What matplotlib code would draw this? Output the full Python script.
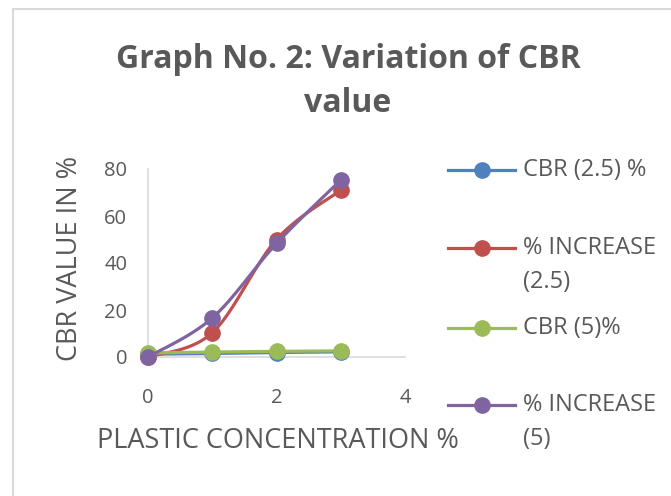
import matplotlib
matplotlib.use("Agg")
import matplotlib.pyplot as plt
import numpy as np
from matplotlib.lines import Line2D
from matplotlib.patches import Rectangle

# data
conc = [0, 1, 2, 3]
cbr_25 = [1.2, 1.5, 1.9, 2.2]
inc_25 = [0, 10.3, 50, 71]
cbr_5 = [1.7, 2.1, 2.4, 2.6]
inc_5 = [0, 16.6, 48.3, 75.3]

labels = ["CBR (2.5) %", "% INCREASE\n(2.5)", "CBR (5)%", "% INCREASE\n(5)"]
colors = ["#4F81BD", "#C0504D", "#9BBB59", "#8064A2"]

TXT = "#595959"
FONT = "Open Sans"


def smooth(x, y, n=30):
    # Excel-style smoothed line (cubic bezier through the points)
    x = np.asarray(x, float)
    y = np.asarray(y, float)
    px = np.concatenate([[x[0]], x, [x[-1]]])
    py = np.concatenate([[y[0]], y, [y[-1]]])
    t = np.linspace(0, 1, n)
    xs, ys = [], []
    for i in range(1, len(px) - 2):
        p0 = np.array([px[i], py[i]])
        p3 = np.array([px[i + 1], py[i + 1]])
        c1 = p0 + (p3 - np.array([px[i - 1], py[i - 1]])) / 6
        c2 = p3 - (np.array([px[i + 2], py[i + 2]]) - p0) / 6
        b = ((1 - t) ** 3)[:, None] * p0 + (3 * (1 - t) ** 2 * t)[:, None] * c1 \
            + (3 * (1 - t) * t ** 2)[:, None] * c2 + (t ** 3)[:, None] * p3
        xs.append(b[:, 0])
        ys.append(b[:, 1])
    return np.concatenate(xs), np.concatenate(ys)


fig = plt.figure(figsize=(6.71, 4.96), dpi=100)
fig.patches.append(Rectangle((13 / 671, -0.1), 1.2, 1 - 9 / 496 + 0.1,
                             transform=fig.transFigure, fill=False,
                             edgecolor="#D9D9D9", linewidth=1.5))

ax = fig.add_axes([148 / 671, 1 - 357 / 496, (405 - 148) / 671, (357 - 169) / 496])

series = [cbr_25, inc_25, cbr_5, inc_5]
for i, (vals, c) in enumerate(zip(series, colors)):
    sx, sy = smooth(conc, vals)
    ax.plot(sx, sy, color=c, linewidth=2.3, zorder=3 + i, clip_on=False)
    ax.plot(conc, vals, "o", color=c, markersize=11, zorder=3 + i, clip_on=False)

ax.set_xlim(0, 4)
ax.set_ylim(0, 80)
ax.set_xticks([0, 2, 4])
ax.set_yticks([0, 20, 40, 60, 80])
for s in ["top", "right"]:
    ax.spines[s].set_visible(False)
for s in ["left", "bottom"]:
    ax.spines[s].set_color("#D9D9D9")
    ax.spines[s].set_linewidth(1.2)
ax.tick_params(length=0, colors=TXT, labelsize=14.5)
ax.tick_params(axis="y", pad=15)
ax.tick_params(axis="x", pad=22)
for lb in ax.get_xticklabels() + ax.get_yticklabels():
    lb.set_fontfamily(FONT)

fig.text(348 / 671, 1 - 59 / 496, "Graph No. 2: Variation of CBR", ha="center", va="center",
         fontsize=23, fontweight="bold", color=TXT, family=FONT)
fig.text(348 / 671, 1 - 103 / 496, "value", ha="center", va="center",
         fontsize=23, fontweight="bold", color=TXT, family=FONT)
fig.text(70 / 671, 1 - 258 / 496, "CBR VALUE IN %", rotation=90, ha="center", va="center",
         fontsize=19.5, color=TXT, family=FONT)
fig.text(278 / 671, 1 - 441 / 496, "PLASTIC CONCENTRATION %", ha="center", va="center",
         fontsize=19.5, color=TXT, family=FONT)

# legend, drawn by hand so the marker sits on the first text line
leg_y = [170, 248, 328, 405]
for lab, c, yy in zip(labels, colors, leg_y):
    fy = 1 - yy / 496
    fig.add_artist(Line2D([448 / 671, 515 / 671], [fy, fy], color=c, linewidth=2.3,
                          transform=fig.transFigure))
    fig.add_artist(Line2D([482 / 671], [fy], marker="o", color=c, markersize=11,
                          transform=fig.transFigure))
    fig.text(523 / 671, fy + 12 / 496, lab, ha="left", va="top", fontsize=17,
             color=TXT, family=FONT, linespacing=1.55)

fig.savefig("out.png", dpi=100)
